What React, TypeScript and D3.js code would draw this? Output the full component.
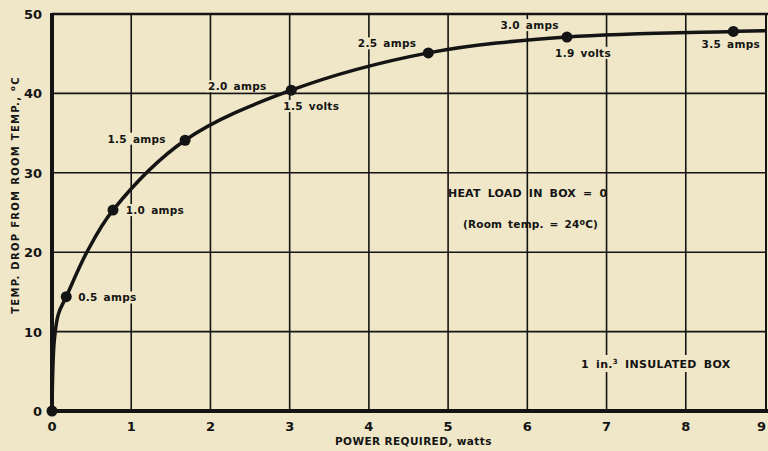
import React from "react";
import * as d3 from "d3";

// power (watts) vs temperature drop (°C)
const curveX = [0, 0.01, 0.03, 0.08, 0.18, 0.44, 0.77, 1.68, 3.02, 4.75, 6.5, 8.6, 9.0];
const curveY = [0, 5, 9, 12.2, 14.4, 20, 25.3, 34.1, 40.4, 45.1, 47.1, 47.8, 47.9];

const dotX = [0, 0.18, 0.77, 1.68, 3.02, 4.75, 6.5, 8.6];
const dotY = [0, 14.4, 25.3, 34.1, 40.4, 45.1, 47.1, 47.8];

const xTicks = [0, 1, 2, 3, 4, 5, 6, 7, 8, 9];
const yTicks = [0, 10, 20, 30, 40, 50];

// annotations, anchored in data units
const noteText = [
  "0.5 amps", "1.0 amps", "1.5 amps", "2.0 amps", "1.5 volts",
  "2.5 amps", "3.0 amps", "1.9 volts", "3.5 amps",
];
const noteX = [0.33, 0.93, 0.7, 1.97, 2.92, 3.86, 5.66, 6.35, 8.2];
const noteY = [13.8, 24.8, 33.8, 40.4, 37.9, 45.8, 48.1, 44.6, 45.7];

const BG = "#efe7c7";
const INK = "#141414";
const FONT = "'DejaVu Sans', sans-serif";

const App = () => {
  const W = 768;
  const H = 451;
  const x = d3.scaleLinear().domain([0, 9]).range([52, 765]);
  const y = d3.scaleLinear().domain([0, 50]).range([411, 14]);

  const pts: [number, number][] = curveX.map((v, i) => [v, curveY[i]]);
  const line = d3
    .line<[number, number]>()
    .x((d) => x(d[0]))
    .y((d) => y(d[1]))
    .curve(d3.curveCatmullRom.alpha(0.5));

  return (
    <svg
      width={W}
      height={H}
      style={{ position: "fixed", left: 0, top: 0, background: BG }}
      fontFamily={FONT}
      fontWeight="bold"
      fill={INK}
    >
      <rect width={W} height={H} fill={BG} />

      {/* grid */}
      {xTicks.slice(1, -1).map((t) => (
        <line key={"gx" + t} x1={x(t)} x2={x(t)} y1={y(0)} y2={y(50)} stroke={INK} strokeWidth={1.6} />
      ))}
      {yTicks.slice(1, -1).map((t) => (
        <line key={"gy" + t} x1={x(0)} x2={x(9)} y1={y(t)} y2={y(t)} stroke={INK} strokeWidth={1.6} />
      ))}
      {/* frame */}
      <line x1={x(0)} x2={W} y1={y(50)} y2={y(50)} stroke={INK} strokeWidth={2.5} />
      <line x1={x(9) + 1} x2={x(9) + 1} y1={y(50)} y2={y(0)} stroke={INK} strokeWidth={2} />
      <line x1={x(0)} x2={x(0)} y1={y(50) - 1} y2={y(0) + 2} stroke={INK} strokeWidth={4} />
      <line x1={x(0) - 2} x2={W} y1={y(0)} y2={y(0)} stroke={INK} strokeWidth={4} />

      {/* tick labels */}
      {xTicks.map((t, i) => (
        <text
          key={"tx" + t}
          x={i === xTicks.length - 1 ? W - 2 : x(t)}
          y={431}
          textAnchor={i === xTicks.length - 1 ? "end" : "middle"}
          fontSize={13}
        >
          {t}
        </text>
      ))}
      {yTicks.map((t) => (
        <text key={"ty" + t} x={42} y={y(t) + 5} textAnchor="end" fontSize={13}>
          {t}
        </text>
      ))}

      {/* axis titles */}
      <text
        transform={`translate(19,${195}) rotate(-90)`}
        textAnchor="middle"
        fontSize={10}
        letterSpacing={1.3}
      >
        TEMP. DROP FROM ROOM TEMP., <tspan dy={-4} fontSize={7}>o</tspan>
        <tspan dy={4}>C</tspan>
      </text>
      <text x={335} y={445} fontSize={10.5} letterSpacing={0.4}>
        POWER REQUIRED, watts
      </text>

      {/* labels with background so the grid breaks around them */}
      {noteText.map((s, i) => (
        <g key={"n" + i}>
          <rect x={x(noteX[i]) - 2} y={y(noteY[i]) - 10} width={s.length * 7} height={12} fill={BG} />
          <text x={x(noteX[i])} y={y(noteY[i])} fontSize={10.5} letterSpacing={0.3} wordSpacing={2}>
            {s}
          </text>
        </g>
      ))}

      {/* curve and dots */}
      <path d={line(pts) ?? ""} fill="none" stroke={INK} strokeWidth={3.5} strokeLinecap="round" />
      {dotX.map((v, i) => (
        <circle key={"d" + i} cx={x(v)} cy={y(dotY[i])} r={5.5} fill={INK} />
      ))}

      {/* box notes */}
      <text x={448} y={197} fontSize={11} wordSpacing={3} letterSpacing={0.2}>
        HEAT LOAD IN BOX = 0
      </text>
      <text x={463} y={228} fontSize={10.5} wordSpacing={2} letterSpacing={0.2}>
        (Room temp. = 24<tspan dy={-3} fontSize={8}>o</tspan>
        <tspan dy={3}>C)</tspan>
      </text>
      <rect x={576} y={355} width={164} height={17} fill={BG} />
      <text x={581} y={368} fontSize={11} wordSpacing={3} letterSpacing={0.3}>
        1 in.<tspan dy={-4} fontSize={7}>3</tspan>
        <tspan dy={4}> INSULATED BOX</tspan>
      </text>
    </svg>
  );
};

export default App;
